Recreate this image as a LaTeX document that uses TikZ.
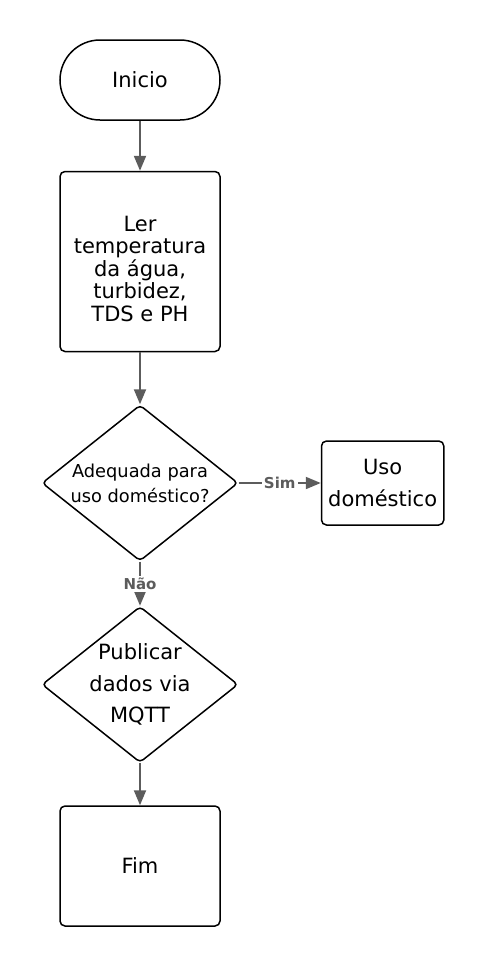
\documentclass[tikz,border=0pt]{standalone}
\usepackage{fontspec}
\setmainfont{DejaVu Sans}
\usetikzlibrary{positioning,shapes.geometric,arrows.meta}
\definecolor{arrgray}{HTML}{5C5C5C}

\begin{document}
\begin{tikzpicture}[>={Triangle[length=7.5pt,width=6pt]}, x=0.5pt, y=-0.5pt]
\tikzset{
myterm/.style={
  draw, line width=0.75pt,
  rounded corners=20pt,
  minimum width=80pt, minimum height=40pt,
  font=\fontsize{10.5}{11.2}\selectfont
  },
mybox/.style={
  draw, line width=0.75pt,
  rounded corners=2.5pt,
  align=center,
  font=\fontsize{10.5}{11.2}\selectfont
  },
mydiam/.style={
  diamond, draw, line width=0.75pt,
  rounded corners=2pt,
  inner sep=0pt, shape aspect=1.25,
  minimum width=98pt, minimum height=78pt,
  align=center
  },
myarrow/.style={->, draw=arrgray, fill=arrgray, line width=1pt},
mylabel/.style={
  fill=white, inner sep=1pt,
  text=arrgray, font=\fontsize{7.5}{8}\selectfont\bfseries
  }
}

\useasboundingbox (0,0) rectangle (480,960);

\node[myterm] (inicio) at (140,80) {Inicio};
\node[mybox, minimum width=80pt, minimum height=90pt, below=25pt of inicio]
  (ler) {\rule{0pt}{15pt}Ler\\temperatura\\da água,\\turbidez,\\TDS e PH};
\node[mydiam, font=\fontsize{8.9}{12.5}\selectfont, below=26pt of ler]
  (adeq) {Adequada para\\uso doméstico?};
\node[mybox, minimum width=60pt, minimum height=42pt,
  font=\fontsize{10.5}{16}\selectfont, right=41pt of adeq]
  (uso) {Uso\\doméstico};
\node[mydiam, inner sep=-3pt, font=\fontsize{10.5}{15.8}\selectfont, below=22pt of adeq]
  (pub) {Publicar\\dados via\\MQTT};
\node[mybox, minimum width=80pt, minimum height=60pt, below=21pt of pub]
  (fim) {Fim};

\draw[myarrow] (inicio) -- (ler);
\draw[myarrow] (ler) -- (adeq);
\draw[myarrow] (adeq) -- node[mylabel] {Sim} (uso);
\draw[myarrow] (adeq) -- node[mylabel] {Não} (pub);
\draw[myarrow] (pub) -- (fim);

\end{tikzpicture}
\end{document}
